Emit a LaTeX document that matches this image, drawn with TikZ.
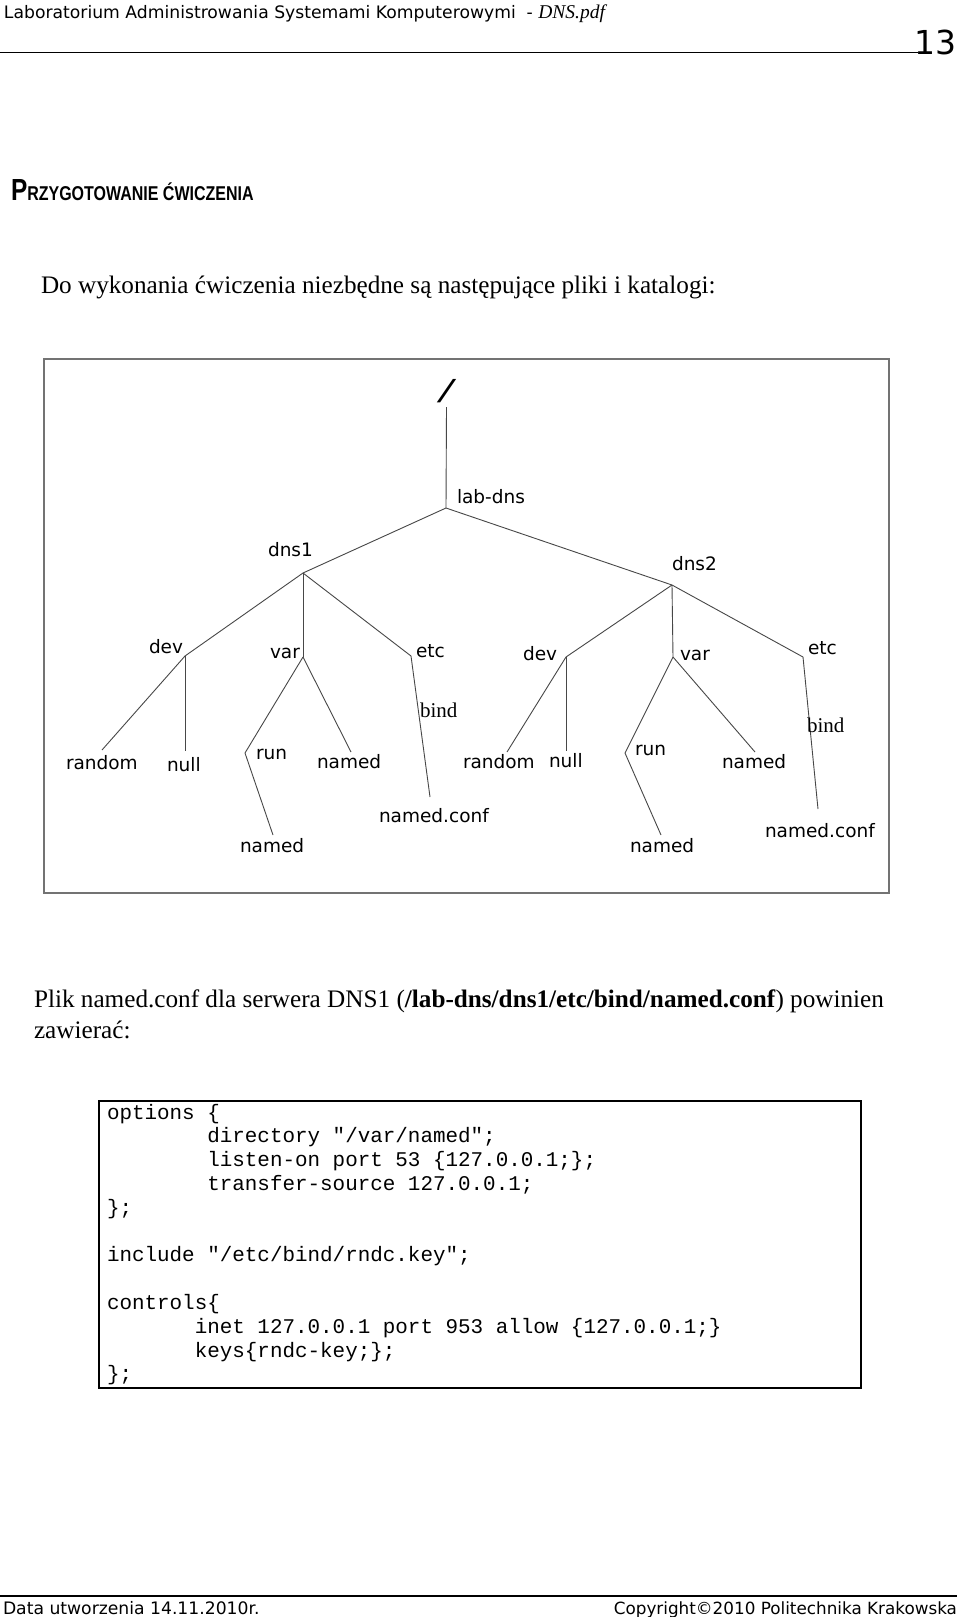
\documentclass[tikz,border=0pt]{standalone}
\usepackage{fontspec}
\setmainfont{Liberation Serif}
\setsansfont{DejaVu Sans}
\setmonofont{Liberation Mono}
\newfontfamily\tahoma{DejaVu Sans}
\newfontfamily\arialfont{Liberation Sans}
\usetikzlibrary{positioning}
\newcommand\fsz[1]{\fontsize{#1}{#1}\selectfont}
\newcommand\tabsp[1]{\phantom{#1}}

\begin{document}
\begin{tikzpicture}[x=1pt,y=-1pt,
  every node/.style={inner sep=0pt,outer sep=0pt},
  dirname/.style={font=\sffamily\fsz{18.5},anchor=base west},
  bindname/.style={font=\rmfamily\fsz{21},anchor=base west},
  bodytext/.style={font=\rmfamily\fsz{25.2},anchor=base west},
  codeline/.style={font=\ttfamily\fsz{20.9},anchor=base west},
  pagetext/.style={font=\tahoma\fsz{17.2},anchor=base west},
  link/.style={draw=black!72,line width=0.9pt},
  frame/.style={draw=black!55,line width=1.3pt}
]
  \useasboundingbox (0,0) rectangle (960,1617);
  \fill[white] (0,0) rectangle (960,1617);

  % --- page header ---
  \node[pagetext] (title) at (4,18.3) {Laboratorium Administrowania Systemami Komputerowymi\ \ - {\rmfamily\itshape\fsz{19.5}DNS.pdf}};
  \node[pagetext,anchor=base east,font=\tahoma\fsz{33}] (pagenum) at (956,54) {13};
  \draw[line width=1.5pt] (0,52.5) -- (918,52.5);

  % --- section ---
  \node[anchor=base west,font=\arialfont\bfseries] (heading) at (11,200)
    {\scalebox{0.8}[1]{\fsz{30.5}P\fsz{20}RZYGOTOWANIE \'CWICZENIA}};
  \node[bodytext] (intro) at (41,293) {Do wykonania ćwiczenia niezbędne są następujące pliki i katalogi:};

  % --- directory tree ---
  \draw[frame] (44,359) rectangle (889,893);

  \node[font=\rmfamily\fsz{35},xscale=2,anchor=south] (root) at (446.5,403) {/};
  \coordinate (labdns) at (446,508);
  \coordinate (dnsA) at (303,573);
  \coordinate (dnsB) at (672,585);
  % dns1 subtree
  \coordinate (devA) at (185,656);
  \coordinate (varA) at (303,657);
  \coordinate (etcA) at (411,656);
  \coordinate (randomA) at (102,750);
  \coordinate (nullA) at (185,751);
  \coordinate (runA) at (245,753);
  \coordinate (namedA) at (351,752);
  \coordinate (runnamedA) at (273,835);
  \coordinate (bindA) at (430,797);
  % dns2 subtree
  \coordinate (devB) at (566,657);
  \coordinate (varB) at (673,657);
  \coordinate (etcB) at (803,657);
  \coordinate (randomB) at (507,752);
  \coordinate (nullB) at (566,751);
  \coordinate (runB) at (625,753);
  \coordinate (namedB) at (755,752);
  \coordinate (runnamedB) at (661,835);
  \coordinate (bindB) at (818,809);

  \draw[link] ([yshift=-4pt]root.south) -- (labdns);
  \draw[link] (labdns) -- (dnsA);
  \draw[link] (labdns) -- (dnsB);
  \foreach \s in {A,B}{
    \draw[link] (dns\s) -- (dev\s);
    \draw[link] (dns\s) -- (var\s);
    \draw[link] (dns\s) -- (etc\s);
    \draw[link] (dev\s) -- (random\s);
    \draw[link] (dev\s) -- (null\s);
    \draw[link] (var\s) -- (run\s);
    \draw[link] (var\s) -- (named\s);
    \draw[link] (run\s) -- (runnamed\s);
    \draw[link] (etc\s) -- (bind\s);
  }

  % labels
  \node[dirname] (lLabdns) at (457,503) {lab-dns};
  \node[dirname] (lDnsA) at (268,556) {dns1};
  \node[dirname] (lDnsB) at (672,570) {dns2};
  \node[dirname] (lDevA) at (149,653) {dev};
  \node[dirname] (lVarA) at (270,658) {var};
  \node[dirname] (lEtcA) at (416,657) {etc};
  \node[dirname] (lRandomA) at (66,769) {random};
  \node[dirname] (lNullA) at (167,771) {null};
  \node[dirname] (lRunA) at (256,759) {run};
  \node[dirname] (lNamedA) at (317,768) {named};
  \node[dirname] (lRunnamedA) at (240,852) {named};
  \node[bindname] (lBindA) at (420,717) {bind};
  \node[dirname] (lConfA) at (379,822) {named.conf};
  \node[dirname] (lDevB) at (523,660) {dev};
  \node[dirname] (lVarB) at (680,660) {var};
  \node[dirname] (lEtcB) at (808,654) {etc};
  \node[dirname] (lRandomB) at (463,768) {random};
  \node[dirname] (lNullB) at (549,767) {null};
  \node[dirname] (lRunB) at (635,755) {run};
  \node[dirname] (lNamedB) at (722,768) {named};
  \node[dirname] (lRunnamedB) at (630,852) {named};
  \node[bindname] (lBindB) at (807,732) {bind};
  \node[dirname] (lConfB) at (765,837) {named.conf};

  % --- named.conf ---
  \node[bodytext] (plik) at (34,1007) {Plik named.conf dla serwera DNS1 (\textbf{/lab-dns/dns1/etc/bind/named.conf}) powinien};
  \node[bodytext] (plik2) at (34,1038) {zawierać:};

  \draw[line width=1.3pt] (99,1101) rectangle (861,1388);
  \foreach \ln [count=\i from 0] in {
      {options \{},
      {\tabsp{xxxxxxxx}directory "/var/named";},
      {\tabsp{xxxxxxxx}listen-on port 53 \{127.0.0.1;\};},
      {\tabsp{xxxxxxxx}transfer-source 127.0.0.1;},
      {\};},
      {},
      {include "/etc/bind/rndc.key";},
      {},
      {controls\{},
      {\tabsp{xxxxxxx}inet 127.0.0.1 port 953 allow \{127.0.0.1;\}},
      {\tabsp{xxxxxxx}keys\{rndc-key;\};},
      {\};}}
    \node[codeline] (code\i) at (107,{1119+23.8*\i}) {\ln};

  % --- page footer ---
  \draw[line width=1.5pt] (0,1596) -- (957,1596);
  \node[pagetext] (created) at (3,1614) {Data utworzenia 14.11.2010r.};
  \node[pagetext,anchor=base east,font=\tahoma\fsz{16.8}] (copyright) at (957,1614) {Copyright©2010 Politechnika Krakowska};
\end{tikzpicture}
\end{document}
